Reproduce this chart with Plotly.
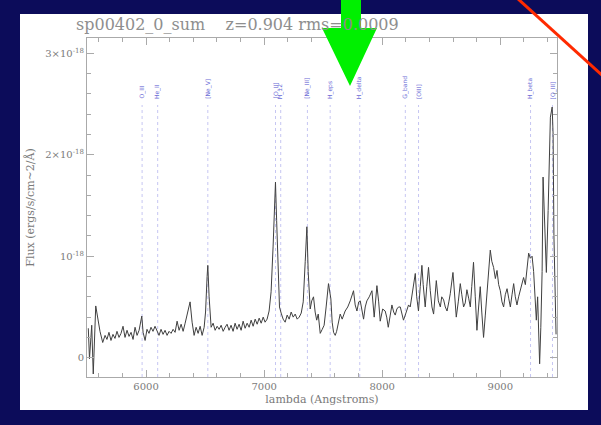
import plotly.graph_objects as go

# Spectrum: observed wavelength (Angstrom) and flux (units of 1e-18 erg/s/cm^2/A)
wavelength = [
    5511, 5521, 5540, 5553, 5574, 5590, 5610, 5633, 5653, 5669, 5686, 5703, 5720, 5737,
    5754, 5771, 5788, 5805, 5822, 5839, 5856, 5873, 5890, 5907, 5924, 5941, 5964, 5975,
    5992, 6008, 6025, 6042, 6059, 6076, 6093, 6110, 6127, 6144, 6161, 6178, 6195, 6212,
    6229, 6246, 6263, 6280, 6297, 6314, 6331, 6347, 6364, 6373, 6390, 6407, 6424, 6441,
    6458, 6475, 6492, 6504, 6517, 6523, 6534, 6551, 6568, 6585, 6602, 6619, 6636, 6653,
    6670, 6686, 6703, 6720, 6737, 6754, 6771, 6788, 6805, 6822, 6839, 6856, 6873, 6890,
    6907, 6924, 6941, 6958, 6975, 6992, 7008, 7025, 7042, 7059, 7076, 7089, 7096, 7106,
    7119, 7130, 7144, 7161, 7178, 7195, 7212, 7229, 7246, 7263, 7280, 7297, 7314, 7331,
    7348, 7362, 7373, 7390, 7403, 7418, 7432, 7445, 7458, 7475, 7492, 7508, 7525, 7545,
    7565, 7576, 7588, 7602, 7614, 7627, 7644, 7661, 7686, 7708, 7729, 7757, 7771, 7786,
    7801, 7814, 7828, 7842, 7856, 7870, 7890, 7913, 7932, 7955, 7970, 7983, 8004, 8025,
    8038, 8051, 8068, 8082, 8097, 8110, 8124, 8138, 8153, 8165, 8180, 8195, 8212, 8223,
    8237, 8251, 8263, 8280, 8292, 8307, 8322, 8336, 8347, 8364, 8377, 8392, 8407, 8421,
    8435, 8449, 8458, 8475, 8492, 8504, 8520, 8534, 8549, 8564, 8576, 8599, 8614, 8627,
    8644, 8661, 8674, 8689, 8703, 8717, 8733, 8746, 8758, 8773, 8788, 8802, 8813, 8830,
    8843, 8858, 8873, 8892, 8904, 8915, 8928, 8943, 8958, 8972, 8986, 9000, 9014, 9028,
    9042, 9057, 9072, 9085, 9099, 9113, 9127, 9141, 9155, 9169, 9184, 9197, 9212, 9226,
    9240, 9254, 9269, 9282, 9294, 9305, 9316, 9325, 9333, 9343, 9354, 9362, 9376, 9390,
    9405, 9416, 9424, 9439, 9447, 9454, 9462, 9472,
]
flux = [
    0.29, -0.01, 0.32, -0.16, 0.51, 0.38, 0.26, 0.15, 0.22, 0.18, 0.25, 0.17, 0.23, 0.19,
    0.26, 0.20, 0.24, 0.31, 0.20, 0.27, 0.21, 0.25, 0.18, 0.30, 0.22, 0.27, 0.41, 0.25,
    0.17, 0.28, 0.24, 0.30, 0.26, 0.31, 0.27, 0.22, 0.28, 0.23, 0.27, 0.22, 0.26, 0.24,
    0.28, 0.25, 0.36, 0.27, 0.33, 0.26, 0.34, 0.42, 0.50, 0.55, 0.35, 0.22, 0.30, 0.24,
    0.31, 0.22, 0.30, 0.45, 0.80, 0.91, 0.60, 0.30, 0.34, 0.27, 0.31, 0.28, 0.32, 0.26,
    0.30, 0.33, 0.27, 0.32, 0.26, 0.34, 0.28, 0.33, 0.27, 0.36, 0.29, 0.34, 0.30, 0.37,
    0.31, 0.38, 0.33, 0.39, 0.34, 0.40, 0.35, 0.38, 0.46, 0.65, 1.10, 1.60, 1.73, 1.35,
    0.80, 0.50, 0.44, 0.38, 0.35, 0.42, 0.38, 0.45, 0.40, 0.43, 0.38, 0.40, 0.44, 0.55,
    0.95, 1.29, 0.85, 0.48, 0.56, 0.60, 0.45, 0.37, 0.43, 0.24, 0.28, 0.32, 0.50, 0.73,
    0.58, 0.35, 0.25, 0.22, 0.26, 0.34, 0.43, 0.38, 0.46, 0.50, 0.56, 0.66, 0.52, 0.46,
    0.55, 0.56, 0.45, 0.38, 0.50, 0.56, 0.60, 0.66, 0.40, 0.71, 0.55, 0.36, 0.48, 0.46,
    0.40, 0.30, 0.42, 0.52, 0.45, 0.42, 0.48, 0.50, 0.50, 0.43, 0.37, 0.42, 0.48, 0.52,
    0.50, 0.60, 0.68, 0.83, 0.60, 0.46, 0.70, 0.91, 0.72, 0.50, 0.70, 0.89, 0.66, 0.50,
    0.43, 0.62, 0.76, 0.56, 0.50, 0.60, 0.57, 0.50, 0.46, 0.55, 0.63, 0.84, 0.58, 0.40,
    0.55, 0.73, 0.62, 0.50, 0.54, 0.67, 0.58, 0.50, 0.70, 0.94, 0.60, 0.27, 0.45, 0.70,
    0.45, 0.20, 0.42, 0.72, 0.90, 1.06, 0.95, 0.89, 0.78, 0.86, 0.72, 0.66, 0.55, 0.50,
    0.62, 0.68, 0.58, 0.50, 0.62, 0.73, 0.60, 0.52, 0.60, 0.66, 0.75, 0.79, 0.72, 0.88,
    1.03, 0.98, 1.00, 0.85, 0.55, 0.37, 0.60, 0.30, -0.06, 0.30, 0.85, 1.78, 1.32, 0.84,
    1.45, 2.10, 2.37, 2.47, 2.20, 1.20, 0.55, 0.23,
]

# Line identifications: rest wavelength (Angstrom), shifted by the redshift
redshift = 0.904
line_names = ["O_III", "He_II", "[Ne_V]", "[O_II]", "H_12", "[Ne_III]", "H_eps",
              "H_delta", "G_band", "[OIII]", "H_beta", "[O_III]"]
line_rest = [3133.7, 3203.0, 3426.0, 3727.0, 3750.2, 3869.0, 3970.1,
             4101.7, 4304.4, 4363.2, 4861.3, 4958.9]
line_obs = [w * (1 + redshift) for w in line_rest]

x_tick_vals = [6000, 7000, 8000, 9000]
y_tick_vals = [0, 1, 2, 3]
y_tick_text = ["0", "10<sup>-18</sup>", "2×10<sup>-18</sup>", "3×10<sup>-18</sup>"]

X_RANGE = [5500, 9480]
Y_RANGE = [-0.19, 3.15]
LINE_TOP = 2.49
LABEL_BASE = 2.53

W, H = 601, 425
ML, MR, MT, MB = 87, 44, 38, 48
PW, PH = W - ML - MR, H - MT - MB


def px(x):
    return (x - ML) / PW


def py(y):
    return (H - MB - y) / PH


axis_grey = "#aaaaaa"
text_grey = "#7a7a7a"
serif = "DejaVu Serif"

fig = go.Figure()

# Dotted markers for the identified lines
for w in line_obs:
    fig.add_trace(go.Scatter(
        x=[w, w], y=[Y_RANGE[0], LINE_TOP], mode="lines",
        line=dict(color="#c6c6f2", width=1, dash="dot"),
        hoverinfo="skip", showlegend=False,
    ))

# The spectrum itself
fig.add_trace(go.Scatter(
    x=wavelength, y=flux, mode="lines",
    line=dict(color="#404040", width=1),
    showlegend=False,
))

annotations = []
for name, w in zip(line_names, line_obs):
    annotations.append(dict(
        x=w, y=LABEL_BASE, xref="x", yref="y", text=name, showarrow=False,
        textangle=-90, xanchor="center", yanchor="bottom",
        font=dict(family="DejaVu Sans", size=6, color="#6b6bd6"),
    ))

annotations.append(dict(
    x=px(74), y=py(24), xref="paper", yref="paper",
    text="sp00402_0_sum&nbsp;&nbsp;&nbsp;&nbsp;z=0.904 rms=0.0009",
    showarrow=False, xanchor="left", yanchor="middle",
    font=dict(family=serif, size=16, color="#8e8e8e"),
))

shapes = [
    # white slide panel
    dict(type="rect", xref="paper", yref="paper", layer="below",
         x0=px(20), x1=px(588), y0=py(410), y1=py(14),
         fillcolor="white", line=dict(width=0)),
    # green pointer arrow
    dict(type="path", xref="paper", yref="paper", layer="above",
         path="M {} {} L {} {} L {} {} L {} {} L {} {} L {} {} L {} {} Z".format(
             px(341), py(0), px(361), py(0), px(361), py(28), px(377), py(28),
             px(350), py(86), px(322), py(28), px(341), py(28)),
         fillcolor="#00f000", line=dict(width=0)),
    # red stroke in the corner
    dict(type="line", xref="paper", yref="paper", layer="above",
         x0=px(517), y0=py(-2), x1=px(603), y1=py(76),
         line=dict(color="#ff2a00", width=3)),
]

fig.update_layout(
    width=W, height=H,
    margin=dict(l=ML, r=MR, t=MT, b=MB),
    paper_bgcolor="#0c0c5a",
    plot_bgcolor="white",
    annotations=annotations,
    shapes=shapes,
    font=dict(family=serif, color=text_grey),
)

fig.update_xaxes(
    range=X_RANGE, tickvals=x_tick_vals,
    ticks="inside", ticklen=7, tickcolor=axis_grey, tickwidth=1,
    minor=dict(dtick=200, tick0=0, ticks="inside", ticklen=4, tickcolor=axis_grey),
    showline=True, linecolor=axis_grey, linewidth=1, mirror="ticks",
    showgrid=False, zeroline=False,
    tickfont=dict(family=serif, size=10, color=text_grey),
    title=dict(text="lambda (Angstroms)", standoff=4,
               font=dict(family=serif, size=11, color=text_grey)),
)
fig.update_yaxes(
    range=Y_RANGE, tickvals=y_tick_vals, ticktext=y_tick_text,
    ticks="inside", ticklen=7, tickcolor=axis_grey, tickwidth=1,
    minor=dict(dtick=0.2, tick0=0, ticks="inside", ticklen=4, tickcolor=axis_grey),
    showline=True, linecolor=axis_grey, linewidth=1, mirror="ticks",
    showgrid=False, zeroline=False,
    tickfont=dict(family=serif, size=10, color=text_grey),
    title=dict(text="Flux (ergs/s/cm~2/Å)", standoff=8,
               font=dict(family=serif, size=11, color=text_grey)),
)

fig.write_html("out.html")
